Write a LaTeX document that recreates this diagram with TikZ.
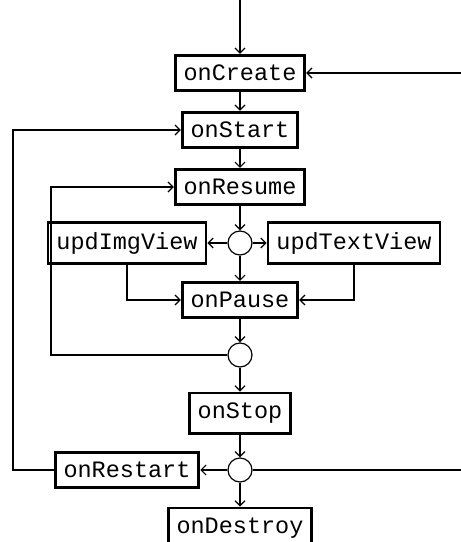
\documentclass[tikz,border=0pt]{standalone}
\usepackage{fontspec}
\setmonofont{Liberation Mono}
\usetikzlibrary{arrows.meta, calc}
\tikzstyle{stage} = [draw, line width=1.4pt, inner xsep=4.2pt, inner ysep=4.9pt, font=\ttfamily\fontsize{11.75}{14}\selectfont]
\tikzstyle{junction} = [circle, draw, line width=0.6pt, inner sep=0pt, minimum size=12pt]
\tikzstyle{arrow} = [line width=0.6pt, -{Straight Barb[length=2.5pt,width=5pt]}]
\tikzstyle{line} = [line width=0.6pt]

\begin{document}
\begin{tikzpicture}[x=0.5pt, y=-0.5pt]
    \useasboundingbox (0,0) rectangle (461,542);

    % Lifecycle stages
    \node[stage] (create) at (240,73) {onCreate};
    \node[stage] (start) at (240,130) {onStart};
    \node[stage] (resume) at (240,187) {onResume};
    \node[junction] (split) at (240,243) {};
    \node[stage] (imgview) at (127,243) {updImgView};
    \node[stage] (textview) at (354,243) {updTextView};
    \node[stage] (pause) at (240,300) {onPause};
    \node[junction] (back) at (240,355) {};
    \node[stage] (stop) at (240,413) {onStop};
    \node[junction] (choice) at (240,470) {};
    \node[stage] (restart) at (127,470) {onRestart};
    \node[stage] (destroy) at (240,528) {onDestroy};

    % Free ends and corners
    \coordinate (entry) at (240,0);
    \coordinate (rightin) at (461,73);
    \coordinate (rightout) at (461,470);
    \coordinate (innerL) at (51,355);
    \coordinate (outerL) at (13,470);

    % Main flow
    \draw[arrow] (entry) -- (create);
    \draw[arrow] (rightin) -- (create);
    \draw[arrow] (create) -- (start);
    \draw[arrow] (start) -- (resume);
    \draw[arrow] (resume) -- (split);
    \draw[arrow] (split) -- (imgview);
    \draw[arrow] (split) -- (textview);
    \draw[arrow] (split) -- (pause);
    \draw[arrow] (imgview.south) |- (pause.west);
    \draw[arrow] (textview.south) |- (pause.east);
    \draw[arrow] (pause) -- (back);
    \draw[arrow] (back) -- (stop);
    \draw[arrow] (stop) -- (choice);
    \draw[arrow] (choice) -- (restart);
    \draw[arrow] (choice) -- (destroy);
    \draw[line] (choice) -- (rightout);

    % Loops
    \draw[arrow] (back.west) -- (innerL) |- (resume.west);
    \draw[arrow] (restart.west) -- (outerL) |- (start.west);
\end{tikzpicture}
\end{document}
